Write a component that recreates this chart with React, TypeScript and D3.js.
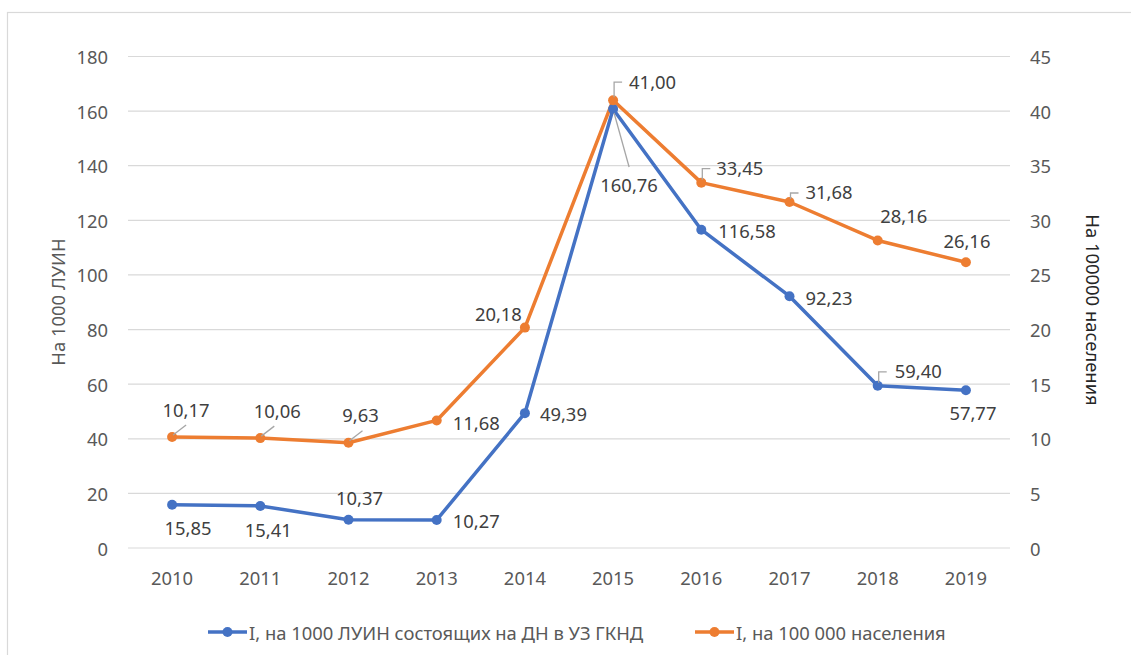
import React from "react";
import * as d3 from "d3";

const years = ["2010", "2011", "2012", "2013", "2014", "2015", "2016", "2017", "2018", "2019"];
const perLuin = [15.85, 15.41, 10.37, 10.27, 49.39, 160.76, 116.58, 92.23, 59.4, 57.77];
const perPop = [10.17, 10.06, 9.63, 11.68, 20.18, 41.0, 33.45, 31.68, 28.16, 26.16];
const leftTicks = [0, 20, 40, 60, 80, 100, 120, 140, 160, 180];
const rightTicks = [0, 5, 10, 15, 20, 25, 30, 35, 40, 45];
const seriesNames = ["I, на 1000 ЛУИН состоящих на ДН в УЗ ГКНД", "I, на 100 000 населения"];
const leftTitle = "На 1000 ЛУИН";
const rightTitle = "На 100000 населения";

// label placement: [dx, dy, anchor, leader]
type Lab = { dx: number; dy: number; a: "start" | "middle" | "end"; leader?: "diag" | "bracket" | "line" };
const blueLabels: Lab[] = [
  { dx: 16, dy: 23, a: "middle" },
  { dx: 8, dy: 24, a: "middle" },
  { dx: 11, dy: -22, a: "middle" },
  { dx: 16, dy: 1, a: "start" },
  { dx: 15, dy: 0, a: "start" },
  { dx: 16, dy: 75, a: "middle", leader: "line" },
  { dx: 17, dy: 1, a: "start" },
  { dx: 16, dy: 1, a: "start" },
  { dx: 17, dy: -15, a: "start", leader: "bracket" },
  { dx: 7, dy: 22, a: "middle" },
];
const orangeLabels: Lab[] = [
  { dx: 14, dy: -27, a: "middle", leader: "diag" },
  { dx: 17, dy: -28, a: "middle", leader: "diag" },
  { dx: 12, dy: -28, a: "middle", leader: "diag" },
  { dx: 16, dy: 2, a: "start" },
  { dx: -3, dy: -14, a: "end" },
  { dx: 16, dy: -19, a: "start", leader: "bracket" },
  { dx: 15, dy: -15, a: "start", leader: "bracket" },
  { dx: 16, dy: -10, a: "start", leader: "bracket" },
  { dx: 26, dy: -25, a: "middle" },
  { dx: 1, dy: -22, a: "middle" },
];

const W = 1131;
const H = 655;
const FONT = "'Noto Sans', 'Open Sans', sans-serif";
const FS = 18.4;
const BLUE = "#4472C4";
const ORANGE = "#ED7D31";
const TXT = "#595959";
const GRID = "#d9d9d9";
const LEAD = "#a6a6a6";

export default function App() {
  const x = d3.scaleBand<string>().domain(years).range([128, 1010]);
  const cx = (y: string) => (x(y) ?? 0) + x.bandwidth() / 2;
  const yl = d3.scaleLinear().domain([0, 180]).range([548, 56.5]);
  const yr = d3.scaleLinear().domain([0, 45]).range([548, 56.5]);
  const lineL = d3.line<number>().x((_, i) => cx(years[i])).y((d) => yl(d));
  const lineR = d3.line<number>().x((_, i) => cx(years[i])).y((d) => yr(d));
  const fmt = (v: number) => v.toFixed(2).replace(".", ",");

  const renderLabels = (vals: number[], scale: d3.ScaleLinear<number, number>, labs: Lab[], key: string) =>
    vals.map((v, i) => {
      const px = cx(years[i]);
      const py = scale(v);
      const l = labs[i];
      const tx = px + l.dx;
      const ty = py + l.dy;
      let leader: React.ReactNode = null;
      if (l.leader === "diag") {
        leader = <line x1={px + 1} y1={py - 2} x2={px + 14} y2={py - 12} stroke={LEAD} strokeWidth={1.3} />;
      } else if (l.leader === "bracket") {
        const top = ty + 1;
        leader = (
          <polyline
            points={`${px + 1},${py - 3} ${px + 1},${top} ${px + 9},${top}`}
            fill="none"
            stroke={LEAD}
            strokeWidth={1.3}
          />
        );
      } else if (l.leader === "line") {
        leader = <line x1={px + 1} y1={py + 4} x2={px + 16} y2={py + 58} stroke={LEAD} strokeWidth={1.3} />;
      }
      return (
        <g key={key + i}>
          {leader}
          <text x={tx} y={ty} textAnchor={l.a} dominantBaseline="central" fill="#404040" fontSize={FS}>
            {fmt(v)}
          </text>
        </g>
      );
    });

  return (
    <svg
      width={W}
      height={H}
      style={{ position: "absolute", left: 0, top: 0, background: "#fff" }}
      fontFamily={FONT}
    >
      <rect x={0} y={0} width={W} height={H} fill="#fff" />
      <rect x={7.5} y={12.5} width={1300} height={800} fill="none" stroke={GRID} strokeWidth={1.2} />
      {leftTicks.map((t) => (
        <line key={"g" + t} x1={128} x2={1010} y1={yl(t)} y2={yl(t)} stroke={GRID} strokeWidth={1.2} />
      ))}
      {leftTicks.map((t) => (
        <text key={"lt" + t} x={108} y={yl(t)} textAnchor="end" dominantBaseline="central" fill={TXT} fontSize={FS}>
          {t}
        </text>
      ))}
      {rightTicks.map((t) => (
        <text key={"rt" + t} x={1030} y={yr(t)} textAnchor="start" dominantBaseline="central" fill={TXT} fontSize={FS}>
          {t}
        </text>
      ))}
      {years.map((yv) => (
        <text key={"x" + yv} x={cx(yv)} y={577} textAnchor="middle" dominantBaseline="central" fill={TXT} fontSize={FS}>
          {yv}
        </text>
      ))}
      <text
        transform={`translate(57,302) rotate(-90)`}
        textAnchor="middle"
        dominantBaseline="central"
        fill={TXT}
        fontSize={FS}
      >
        {leftTitle}
      </text>
      <text
        transform={`translate(1093,310) rotate(90)`}
        textAnchor="middle"
        dominantBaseline="central"
        fill="#262626"
        fontSize={FS}
      >
        {rightTitle}
      </text>
      <path d={lineL(perLuin) ?? ""} fill="none" stroke={BLUE} strokeWidth={3.5} strokeLinejoin="round" />
      <path d={lineR(perPop) ?? ""} fill="none" stroke={ORANGE} strokeWidth={3.5} strokeLinejoin="round" />
      {perLuin.map((v, i) => (
        <circle key={"bc" + i} cx={cx(years[i])} cy={yl(v)} r={5} fill={BLUE} />
      ))}
      {perPop.map((v, i) => (
        <circle key={"oc" + i} cx={cx(years[i])} cy={yr(v)} r={5} fill={ORANGE} />
      ))}
      {renderLabels(perLuin, yl, blueLabels, "bl")}
      {renderLabels(perPop, yr, orangeLabels, "ol")}
      <g>
        <line x1={208} x2={247} y1={632} y2={632} stroke={BLUE} strokeWidth={3.5} />
        <circle cx={227.5} cy={632} r={5} fill={BLUE} />
        <text x={249} y={632} dominantBaseline="central" fill={TXT} fontSize={FS}>
          {seriesNames[0]}
        </text>
        <line x1={695} x2={734} y1={632} y2={632} stroke={ORANGE} strokeWidth={3.5} />
        <circle cx={714.5} cy={632} r={5} fill={ORANGE} />
        <text x={736} y={632} dominantBaseline="central" fill={TXT} fontSize={FS}>
          {seriesNames[1]}
        </text>
      </g>
    </svg>
  );
}
